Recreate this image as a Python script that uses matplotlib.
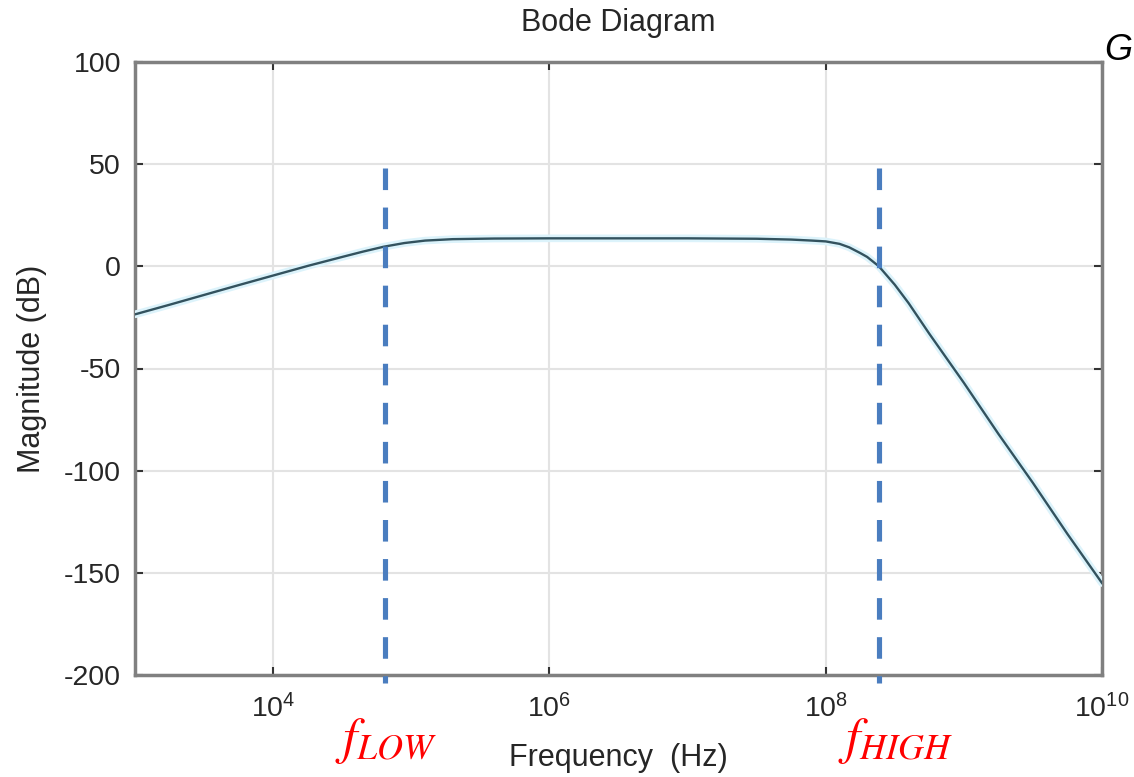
import math
import matplotlib
matplotlib.use("Agg")
import matplotlib.pyplot as plt

# values
freq_hz = [1.0e3, 1.778e3, 3.162e3, 5.623e3, 1.0e4, 1.778e4, 3.162e4, 4.467e4,
           6.310e4, 8.913e4, 1.259e5, 1.995e5, 3.981e5, 1.0e6, 1.0e7, 3.162e7,
           5.623e7, 7.943e7, 1.0e8, 1.259e8, 1.479e8, 1.778e8, 1.995e8, 2.427e8,
           3.162e8, 3.981e8, 5.623e8, 1.0e9, 1.778e9, 3.162e9, 5.623e9, 1.0e10]
mag_db = [-23.5, -18.8, -14.0, -9.2, -4.5, 0.2, 4.6, 7.2,
          9.6, 11.4, 12.6, 13.3, 13.6, 13.7, 13.7, 13.5,
          13.1, 12.6, 12.2, 11.0, 9.3, 6.5, 4.6, 0.0,
          -9.0, -18.0, -33.0, -57.0, -82.0, -106.0, -131.0, -155.0]

f_low = 6.47e4
f_high = 2.43e8
marker_top_db = 48
marker_bottom_db = -204

x_ticks = [1e4, 1e6, 1e8, 1e10]
y_ticks = [-200, -150, -100, -50, 0, 50, 100]

plt.rcParams["font.family"] = ["Liberation Sans", "DejaVu Sans"]
plt.rcParams["axes.unicode_minus"] = False
plt.rcParams["mathtext.fontset"] = "custom"
plt.rcParams["mathtext.rm"] = "Liberation Sans"
plt.rcParams["mathtext.it"] = "Liberation Sans:italic"

fig = plt.figure(figsize=(11.34, 7.77), dpi=100)
ax = fig.add_axes([135 / 1134, 102 / 777, 967 / 1134, 613 / 777])

ax.set_xscale("log")
ax.set_xlim(1e3, 1e10)
ax.set_ylim(-200, 100)
ax.set_xticks(x_ticks)
ax.set_xticklabels([r"$\mathdefault{10^{%d}}$" % round(math.log10(t)) for t in x_ticks])
ax.minorticks_off()
ax.set_yticks(y_ticks)

ax.grid(True, color="#e3e3e3", linewidth=1.5)
ax.set_axisbelow(True)
for s in ax.spines.values():
    s.set_color("#808080")
    s.set_linewidth(2.5)
ax.tick_params(direction="in", length=6, width=1.5, color="#333333",
               top=True, right=True, labelsize=20.5, labelcolor="#262626")
ax.tick_params(axis="y", pad=10)
ax.tick_params(axis="x", pad=14)

# curve with the light halo seen in the picture
ax.plot(freq_hz, mag_db, color="#dcf3fb", linewidth=5.5, solid_capstyle="round", zorder=3)
ax.plot(freq_hz, mag_db, color="#33525e", linewidth=1.7, zorder=4)

# dashed markers at the cutoff frequencies
for f in (f_low, f_high):
    ax.plot([f, f], [marker_top_db, marker_bottom_db], color="#4a7dbf", linewidth=3.7,
            linestyle=(0, (4.2, 3.4)), dash_capstyle="butt", clip_on=False, zorder=5)

ax.set_title("Bode Diagram", fontsize=22, color="#262626", pad=22)
ax.set_xlabel("Frequency  (Hz)", fontsize=22, color="#262626", labelpad=14)
ax.set_ylabel("Magnitude (dB)", fontsize=22, color="#262626", labelpad=12)

fig.text(386 / 1134, 1 - 741 / 777, r"$f_{LOW}$", color="red", fontsize=37,
         ha="center", va="center", math_fontfamily="stix")
fig.text(896 / 1134, 1 - 741 / 777, r"$f_{HIGH}$", color="red", fontsize=37,
         ha="center", va="center", math_fontfamily="stix")
fig.text(1104 / 1134, 1 - 60 / 777, "G", fontsize=26, style="italic",
         ha="left", va="baseline", color="black")

fig.savefig("out.png", dpi=100)
